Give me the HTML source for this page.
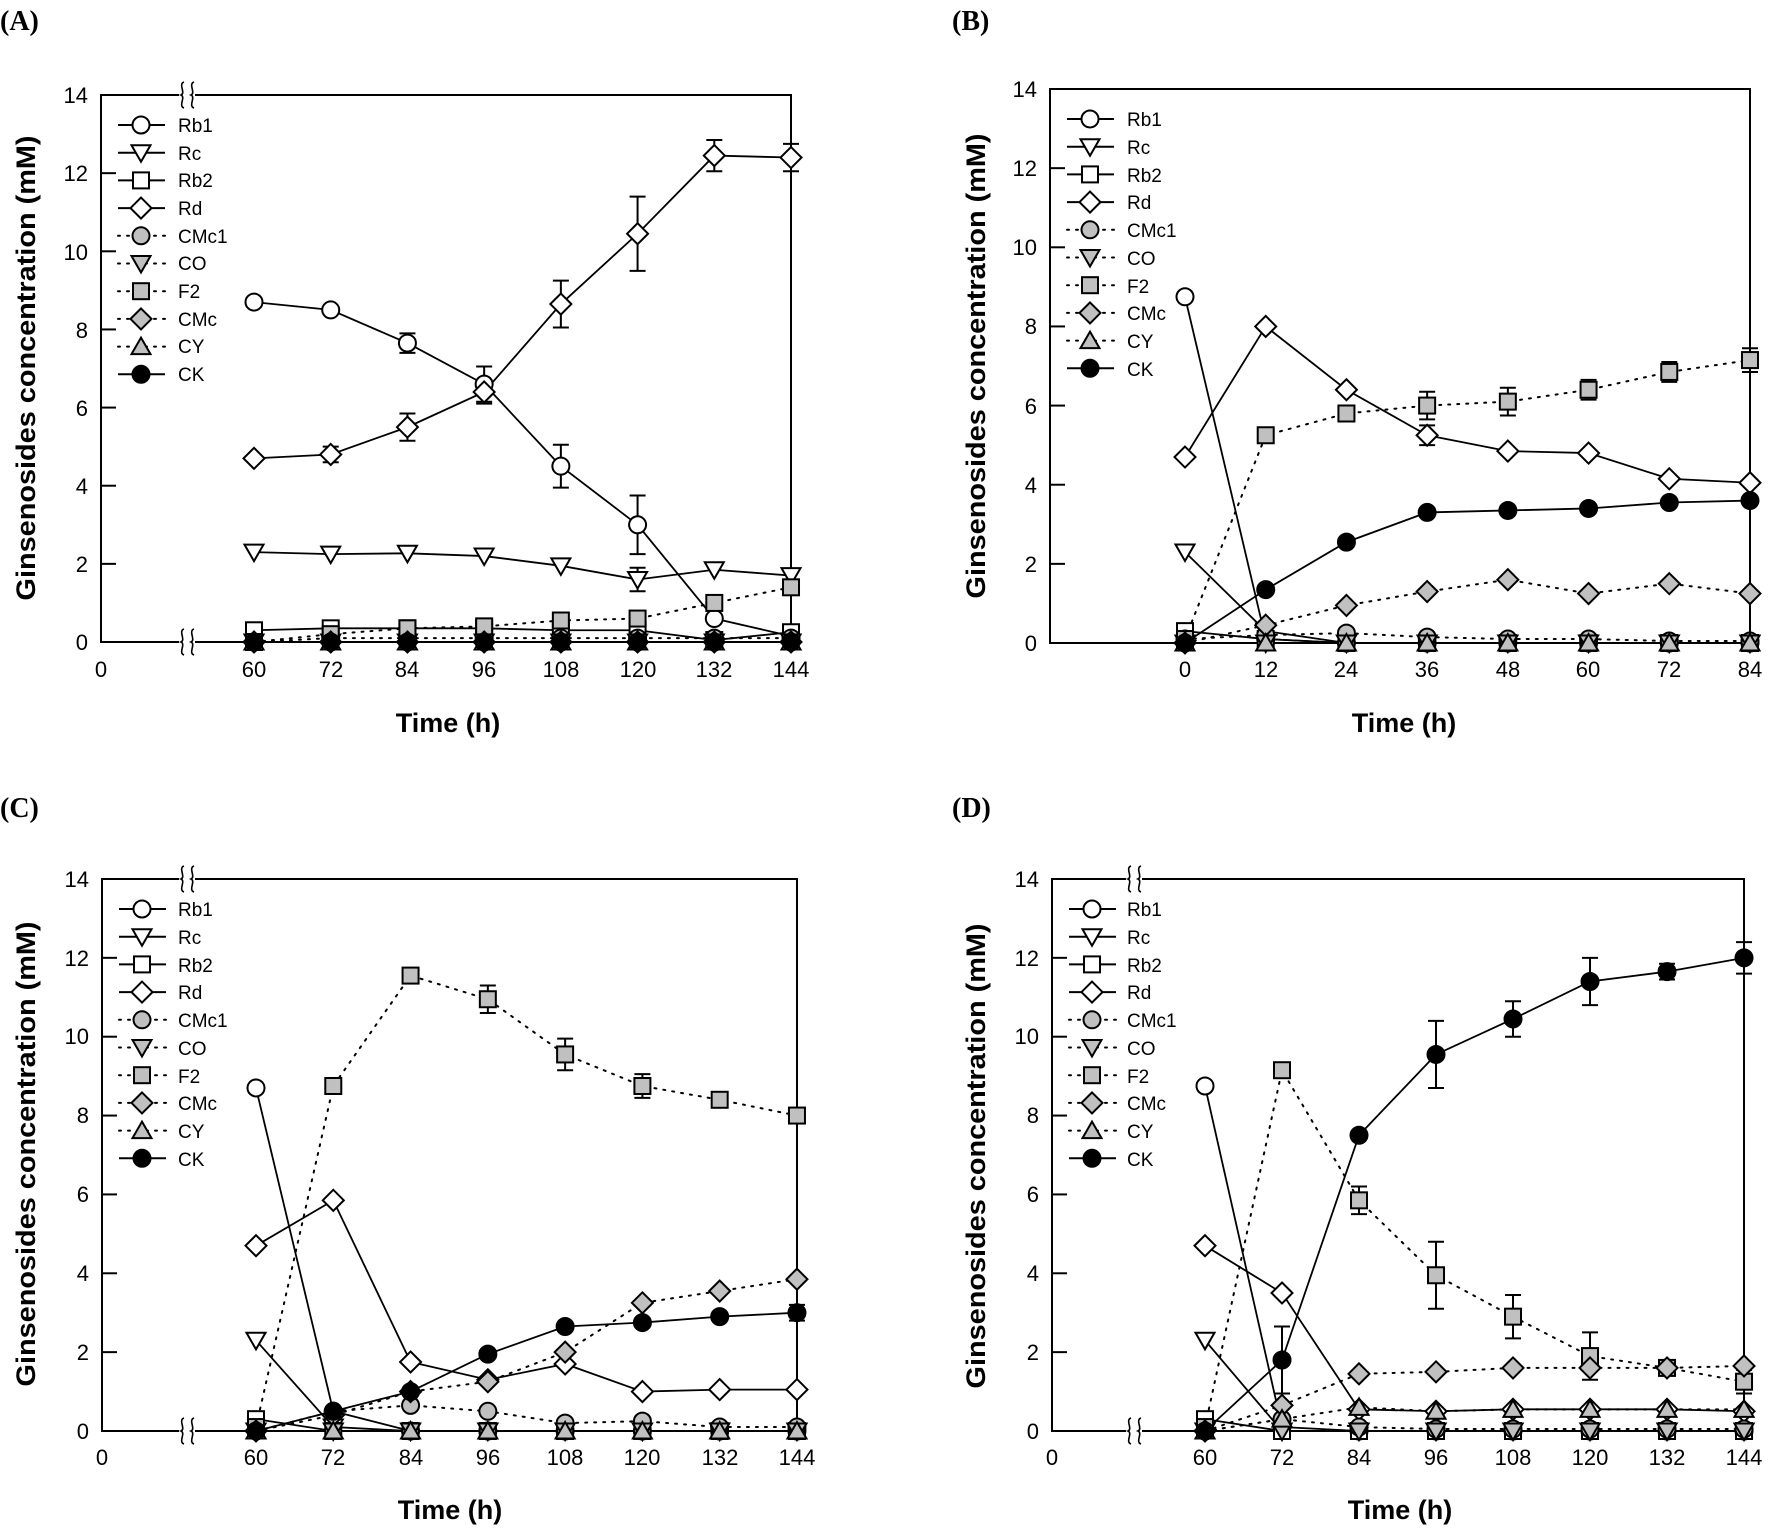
<!DOCTYPE html>
<html><head><meta charset="utf-8">
<style>
html,body{margin:0;padding:0;background:#fff;}
svg{display:block;}
text{font-family:"Liberation Sans",Arial,sans-serif;fill:#000;}
.pl{font-family:"Liberation Serif",serif;font-weight:bold;font-size:28px;}
.tk{font-size:22px;}
.lg{font-size:19px;}
.ti{font-size:27px;font-weight:bold;}
</style></head><body>
<svg id="s" width="1772" height="1533" viewBox="0 0 1772 1533" xmlns="http://www.w3.org/2000/svg">
<rect width="1772" height="1533" fill="#fff"/>
<text class="pl" x="0" y="30">(A)</text>
<text class="pl" x="952" y="30">(B)</text>
<text class="pl" x="0" y="817">(C)</text>
<text class="pl" x="952" y="817">(D)</text>

<text class="ti" transform="translate(35,368) rotate(-90)" text-anchor="middle" textLength="465" lengthAdjust="spacingAndGlyphs">Ginsenosides concentration (mM)</text>
<text class="ti" transform="translate(985,366) rotate(-90)" text-anchor="middle" textLength="465" lengthAdjust="spacingAndGlyphs">Ginsenosides concentration (mM)</text>
<text class="ti" transform="translate(35,1154) rotate(-90)" text-anchor="middle" textLength="465" lengthAdjust="spacingAndGlyphs">Ginsenosides concentration (mM)</text>
<text class="ti" transform="translate(985,1156) rotate(-90)" text-anchor="middle" textLength="465" lengthAdjust="spacingAndGlyphs">Ginsenosides concentration (mM)</text>
<text class="ti" x="448" y="732" text-anchor="middle">Time (h)</text>
<text class="ti" x="1404" y="732" text-anchor="middle">Time (h)</text>
<text class="ti" x="450" y="1519" text-anchor="middle">Time (h)</text>
<text class="ti" x="1400" y="1519" text-anchor="middle">Time (h)</text>

<g class="tk" text-anchor="end">
<text x="88" y="650">0</text><text x="88" y="572">2</text><text x="88" y="494">4</text><text x="88" y="416">6</text><text x="88" y="338">8</text><text x="88" y="260">10</text><text x="88" y="181">12</text><text x="88" y="103">14</text>
</g>
<g class="tk" text-anchor="end">
<text x="1037" y="651">0</text><text x="1037" y="572">2</text><text x="1037" y="493">4</text><text x="1037" y="414">6</text><text x="1037" y="334">8</text><text x="1037" y="255">10</text><text x="1037" y="176">12</text><text x="1037" y="97">14</text>
</g>
<g class="tk" text-anchor="end">
<text x="89" y="1439">0</text><text x="89" y="1360">2</text><text x="89" y="1281">4</text><text x="89" y="1202">6</text><text x="89" y="1123">8</text><text x="89" y="1044">10</text><text x="89" y="966">12</text><text x="89" y="887">14</text>
</g>
<g class="tk" text-anchor="end">
<text x="1039" y="1439">0</text><text x="1039" y="1360">2</text><text x="1039" y="1281">4</text><text x="1039" y="1202">6</text><text x="1039" y="1123">8</text><text x="1039" y="1044">10</text><text x="1039" y="966">12</text><text x="1039" y="887">14</text>
</g>
<g class="tk" text-anchor="middle">
<text x="101" y="677">0</text><text x="254" y="677">60</text><text x="331" y="677">72</text><text x="407" y="677">84</text><text x="484" y="677">96</text><text x="561" y="677">108</text><text x="638" y="677">120</text><text x="714" y="677">132</text><text x="791" y="677">144</text>
<text x="1185" y="677">0</text><text x="1266" y="677">12</text><text x="1346" y="677">24</text><text x="1427" y="677">36</text><text x="1508" y="677">48</text><text x="1588" y="677">60</text><text x="1669" y="677">72</text><text x="1750" y="677">84</text>
<text x="102" y="1465">0</text><text x="256" y="1465">60</text><text x="333" y="1465">72</text><text x="411" y="1465">84</text><text x="488" y="1465">96</text><text x="565" y="1465">108</text><text x="642" y="1465">120</text><text x="720" y="1465">132</text><text x="797" y="1465">144</text>
<text x="1052" y="1465">0</text><text x="1205" y="1465">60</text><text x="1282" y="1465">72</text><text x="1359" y="1465">84</text><text x="1436" y="1465">96</text><text x="1513" y="1465">108</text><text x="1590" y="1465">120</text><text x="1667" y="1465">132</text><text x="1744" y="1465">144</text>
</g>
<g class="lg">
<text x="178" y="132">Rb1</text><text x="178" y="160">Rc</text><text x="178" y="187">Rb2</text><text x="178" y="215">Rd</text><text x="178" y="243">CMc1</text><text x="178" y="270">CO</text><text x="178" y="298">F2</text><text x="178" y="326">CMc</text><text x="178" y="353">CY</text><text x="178" y="381">CK</text>
<text x="1127" y="126">Rb1</text><text x="1127" y="154">Rc</text><text x="1127" y="182">Rb2</text><text x="1127" y="209">Rd</text><text x="1127" y="237">CMc1</text><text x="1127" y="265">CO</text><text x="1127" y="293">F2</text><text x="1127" y="320">CMc</text><text x="1127" y="348">CY</text><text x="1127" y="376">CK</text>
<text x="178" y="916">Rb1</text><text x="178" y="944">Rc</text><text x="178" y="972">Rb2</text><text x="178" y="999">Rd</text><text x="178" y="1027">CMc1</text><text x="178" y="1055">CO</text><text x="178" y="1083">F2</text><text x="178" y="1110">CMc</text><text x="178" y="1138">CY</text><text x="178" y="1166">CK</text>
<text x="1127" y="916">Rb1</text><text x="1127" y="944">Rc</text><text x="1127" y="972">Rb2</text><text x="1127" y="999">Rd</text><text x="1127" y="1027">CMc1</text><text x="1127" y="1055">CO</text><text x="1127" y="1083">F2</text><text x="1127" y="1110">CMc</text><text x="1127" y="1138">CY</text><text x="1127" y="1166">CK</text>
</g>
<g id="dyn"></g>
</svg>
<script>
(function(){
var G=document.getElementById("dyn"),out="";
var GR="#c0c0c0";
var st={Rb1:["c","#fff",0],Rc:["v","#fff",0],Rb2:["s","#fff",0],Rd:["d","#fff",0],CMc1:["c",GR,1],CO:["v",GR,1],F2:["s",GR,1],CMc:["d",GR,1],CY:["u",GR,1],CK:["c","#000",0]};
var order=["Rb1","Rc","Rb2","Rd","CMc1","CO","F2","CMc","CY","CK"];
function mk(t,x,y,f){
 var a='fill="'+f+'" stroke="#000" stroke-width="2"';
 if(t=="c")return '<circle cx="'+x+'" cy="'+y+'" r="8.5" '+a+'/>';
 if(t=="s")return '<rect x="'+(x-8)+'" y="'+(y-8)+'" width="16" height="16" '+a+'/>';
 if(t=="d")return '<polygon points="'+x+','+(y-10.5)+' '+(x+10.5)+','+y+' '+x+','+(y+10.5)+' '+(x-10.5)+','+y+'" '+a+'/>';
 if(t=="v")return '<polygon points="'+(x-9.5)+','+(y-7.5)+' '+(x+9.5)+','+(y-7.5)+' '+x+','+(y+9)+'" '+a+'/>';
 if(t=="u")return '<polygon points="'+(x-9.5)+','+(y+7.5)+' '+(x+9.5)+','+(y+7.5)+' '+x+','+(y-9)+'" '+a+'/>';
}
function brk(x,yy){
 var s='<rect x="'+(x-8)+'" y="'+(yy-3)+'" width="16" height="6" fill="#fff"/>';
 [x-5,x+5].forEach(function(bx){s+='<path d="M'+(bx+2)+','+(yy-13)+' C'+(bx-4)+','+(yy-11)+' '+(bx+4)+','+(yy-2)+' '+(bx-1)+','+yy+' C'+(bx+4)+','+(yy+2)+' '+(bx-4)+','+(yy+11)+' '+(bx+2)+','+(yy+13)+'" fill="none" stroke="#000" stroke-width="1.6"/>';});
 return s;
}
function panel(P){
 var X=function(h){return P.x0+(h-P.h0)*P.k;},Y=function(v){return P.B-v*P.ky;};
 var s='<path d="M'+P.L+','+P.T+' H'+P.R+' V'+P.B+' H'+P.L+' Z" fill="none" stroke="#000" stroke-width="2"/>';
 for(var v=2;v<=12;v+=2)s+='<line x1="'+P.L+'" x2="'+(P.L+15)+'" y1="'+Y(v)+'" y2="'+Y(v)+'" stroke="#000" stroke-width="2"/>';
 if(P.brk){s+=brk(P.brk,P.T)+brk(P.brk,P.B);}
 var hs=P.hs;
 order.slice().sort(function(a,b){return st[b][2]-st[a][2];}).forEach(function(n){
  var d=P.d[n];if(!d)return;var pts=d.map(function(v,i){return X(hs[i])+','+Y(v);}).join(' ');
  s+='<polyline points="'+pts+'" fill="none" stroke="#000" stroke-width="'+(st[n][2]?2:1.8)+'" '+(st[n][2]?'stroke-dasharray="2,7" stroke-linecap="round"':'')+'/>';
 });
 for(var n in P.e){P.e[n].forEach(function(e){var i=e[0],x=X(hs[i]),v=P.d[n][i];
  s+='<path d="M'+x+','+Y(v-e[1])+' V'+Y(v+e[1])+' M'+(x-8)+','+Y(v-e[1])+' h16 M'+(x-8)+','+Y(v+e[1])+' h16" stroke="#000" stroke-width="2" fill="none"/>';});}
 order.forEach(function(n){var d=P.d[n];if(!d)return;d.forEach(function(v,i){s+=mk(st[n][0],X(hs[i]),Y(v),st[n][1]);});});
 order.forEach(function(n,i){var y=P.T+30+i*27.7,l=P.L;
  s+='<line x1="'+(l+17)+'" x2="'+(l+64)+'" y1="'+y+'" y2="'+y+'" stroke="#000" stroke-width="2" '+(st[n][2]?'stroke-dasharray="2,7" stroke-linecap="round"':'')+'/>';
  s+=mk(st[n][0],l+40,y,st[n][1]);});
 return s;
}
var h8=[60,72,84,96,108,120,132,144],hb=[0,12,24,36,48,60,72,84];
var Z=[0,0,0,0,0,0,0,0];
out+=panel({L:101,R:791,T:95,B:642,x0:254,h0:60,k:6.393,ky:39.07,brk:187,hs:h8,
 d:{Rb1:[8.7,8.5,7.65,6.6,4.5,3.0,0.6,0.15],Rc:[2.3,2.25,2.27,2.2,1.95,1.6,1.85,1.7],Rb2:[0.3,0.35,0.35,0.35,0.3,0.3,0.05,0.25],Rd:[4.7,4.8,5.5,6.4,8.65,10.45,12.45,12.4],
 CMc1:[0,0.1,0.1,0.1,0.1,0.1,0.1,0.1],CO:Z,F2:[0,0.2,0.35,0.4,0.55,0.6,1.0,1.4],CMc:Z,CY:Z,CK:Z},
 e:{Rb1:[[2,0.25],[3,0.45],[4,0.55],[5,0.75]],Rd:[[1,0.2],[2,0.35],[3,0.3],[4,0.6],[5,0.95],[6,0.4],[7,0.35]],Rc:[[5,0.3]]}});
out+=panel({L:1050,R:1750,T:89,B:643,x0:1185,h0:0,k:6.726,ky:39.57,hs:hb,
 d:{Rb1:[8.75,0.1,0,0,0,0,0,0],Rc:[2.3,0.3,0,0,0,0,0,0],Rb2:[0.3,0.1,0,0,0,0,0,0],Rd:[4.7,8.0,6.4,5.25,4.85,4.8,4.15,4.05],
 CMc1:[0.1,0.2,0.25,0.15,0.1,0.1,0.05,0.05],CO:Z,F2:[0.1,5.25,5.8,6.0,6.1,6.4,6.85,7.15],CMc:[0,0.45,0.95,1.3,1.6,1.25,1.5,1.25],CY:Z,CK:[0,1.35,2.55,3.3,3.35,3.4,3.55,3.6]},
 e:{F2:[[3,0.35],[4,0.35],[5,0.25],[6,0.25],[7,0.3]],Rd:[[3,0.25]]}});
out+=panel({L:102,R:797,T:879,B:1431,x0:256,h0:60,k:6.44,ky:39.43,brk:187,hs:h8,
 d:{Rb1:[8.7,0.5,0,0,0,0,0,0],Rc:[2.3,0.1,0,0,0,0,0,0],Rb2:[0.3,0,0,0,0,0,0,0],Rd:[4.7,5.85,1.75,1.3,1.7,1.0,1.05,1.05],
 CMc1:[0,0.5,0.65,0.5,0.2,0.25,0.1,0.1],CO:Z,F2:[0.1,8.75,11.55,10.95,9.55,8.75,8.4,8.0],CMc:[0,0.4,1.0,1.25,2.0,3.25,3.55,3.85],CY:Z,CK:[0,0.5,1.0,1.95,2.65,2.75,2.9,3.0]},
 e:{F2:[[2,0.1],[3,0.35],[4,0.4],[5,0.3]],CK:[[7,0.2]]}});
out+=panel({L:1052,R:1744,T:879,B:1431,x0:1205,h0:60,k:6.417,ky:39.43,brk:1134,hs:h8,
 d:{Rb1:[8.75,0.1,0,0,0,0,0,0],Rc:[2.3,0,0,0,0,0,0,0],Rb2:[0.3,0,0,0,0,0,0,0],Rd:[4.7,3.5,0.55,0.5,0.55,0.55,0.55,0.5],
 CMc1:[0,0.3,0.1,0.05,0.05,0.05,0.05,0.05],CO:Z,F2:[0.1,9.15,5.85,3.95,2.9,1.9,1.6,1.25],CMc:[0,0.65,1.45,1.5,1.6,1.6,1.6,1.65],CY:[0,0.3,0.6,0.5,0.55,0.55,0.55,0.55],CK:[0,1.8,7.5,9.55,10.45,11.4,11.65,12.0]},
 e:{F2:[[2,0.35],[3,0.85],[4,0.55],[5,0.6],[6,0.15],[7,0.3]],CK:[[1,0.85],[3,0.85],[4,0.45],[5,0.6],[6,0.2],[7,0.4]],CMc:[[1,0.3]]}});
G.innerHTML=out;
})();
</script>
</body></html>
